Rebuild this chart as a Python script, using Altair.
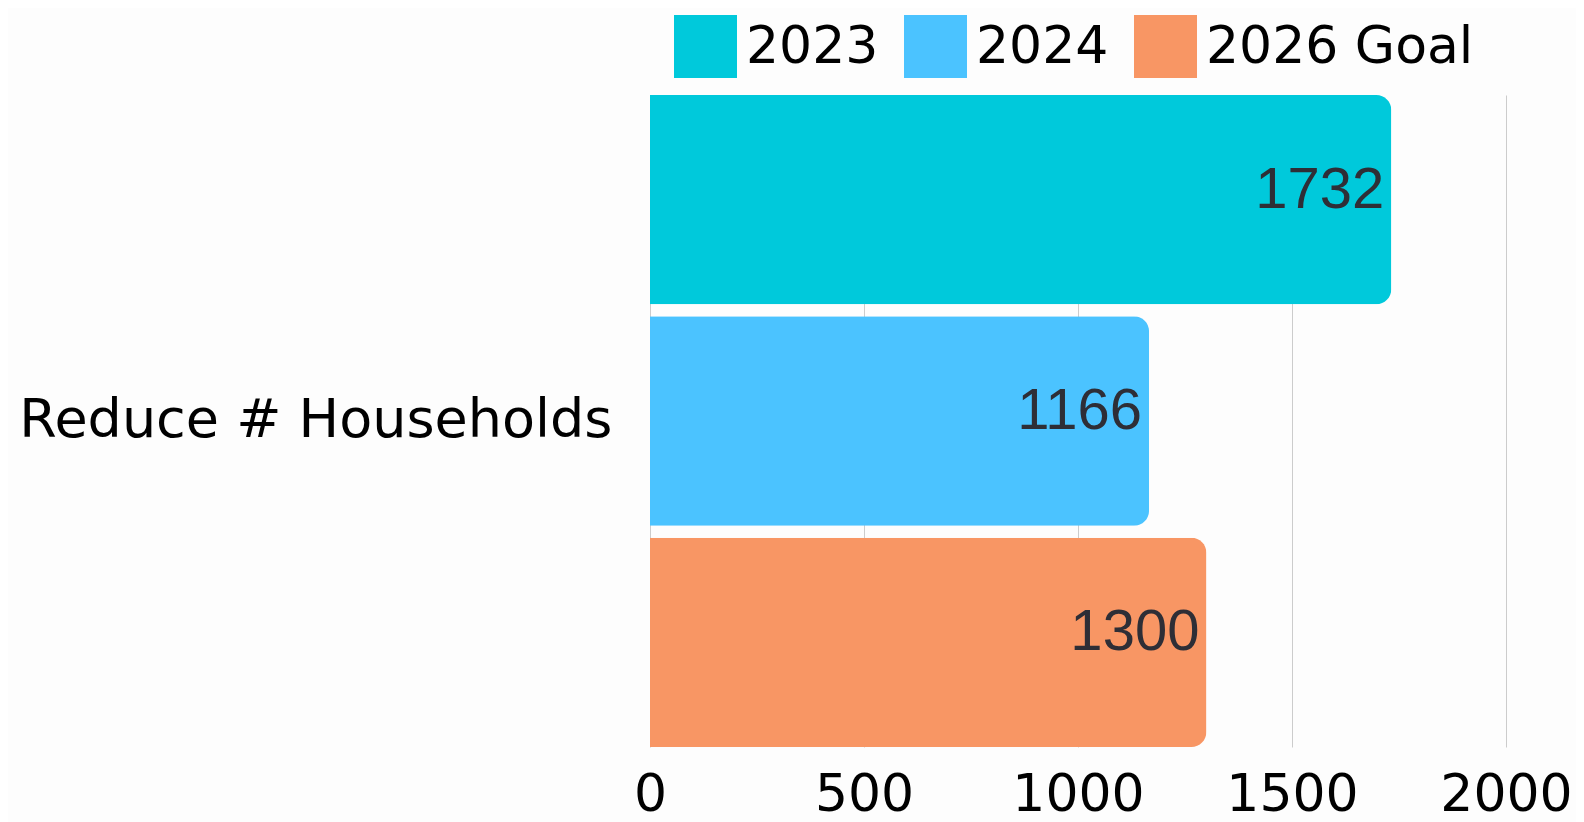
import altair as alt
import pandas as pd

categories = ["Reduce # Households"]
series = ["2023", "2024", "2026 Goal"]
values = [1732, 1166, 1300]
colors = ["#00C9DB", "#4BC3FF", "#F89664"]
x_ticks = [0, 500, 1000, 1500, 2000]

df = pd.DataFrame({
    "category": [categories[0]] * len(series),
    "series": series,
    "value": values,
})

FONT = "DejaVu Sans"
NUM_FONT = "Liberation Sans"

base = alt.Chart(df).encode(
    y=alt.Y("category:N", title=None,
            scale=alt.Scale(paddingInner=0, paddingOuter=0),
            axis=alt.Axis(labelFontSize=54, labelFont=FONT, labelColor="#000000",
                          labelPadding=38, ticks=False, domain=False, labelLimit=700)),
    yOffset=alt.YOffset("series:N", sort=series,
                        scale=alt.Scale(paddingInner=0.054, paddingOuter=0)),
)

bars = base.mark_bar(cornerRadiusEnd=15).encode(
    x=alt.X("value:Q", title=None,
            scale=alt.Scale(domain=[0, 2000], nice=False),
            axis=alt.Axis(values=x_ticks, format="d", labelFontSize=52, labelFont=FONT,
                          labelColor="#000000", labelPadding=22, ticks=False,
                          domain=False, grid=True, gridColor="#CCCCCC",
                          gridWidth=1, labelFlush=False)),
    color=alt.Color("series:N", sort=series,
                    scale=alt.Scale(domain=series, range=colors),
                    legend=alt.Legend(title=None, orient="none", direction="horizontal",
                                      legendX=24, legendY=-80, symbolType="square",
                                      symbolSize=3969, symbolStrokeWidth=0,
                                      symbolOpacity=1,
                                      labelFontSize=52, labelFont=FONT,
                                      labelColor="#000000", labelOffset=9,
                                      columnPadding=25, padding=0, labelLimit=500)),
)

labels = base.mark_text(align="right", baseline="middle", dx=-7, dy=-9, fontSize=58,
                        font=NUM_FONT, color="#2E2E36").encode(
    x=alt.X("value:Q"),
    text=alt.Text("value:Q"),
)

chart = (bars + labels).properties(
    width=856, height=652,
    background="#FDFDFD",
    padding={"left": 642, "top": 87, "right": 70, "bottom": 75},
    autosize=alt.AutoSizeParams(type="none"),
).configure_view(stroke=None)

chart.save("out.html", embed_options={"renderer": "svg", "actions": False})
